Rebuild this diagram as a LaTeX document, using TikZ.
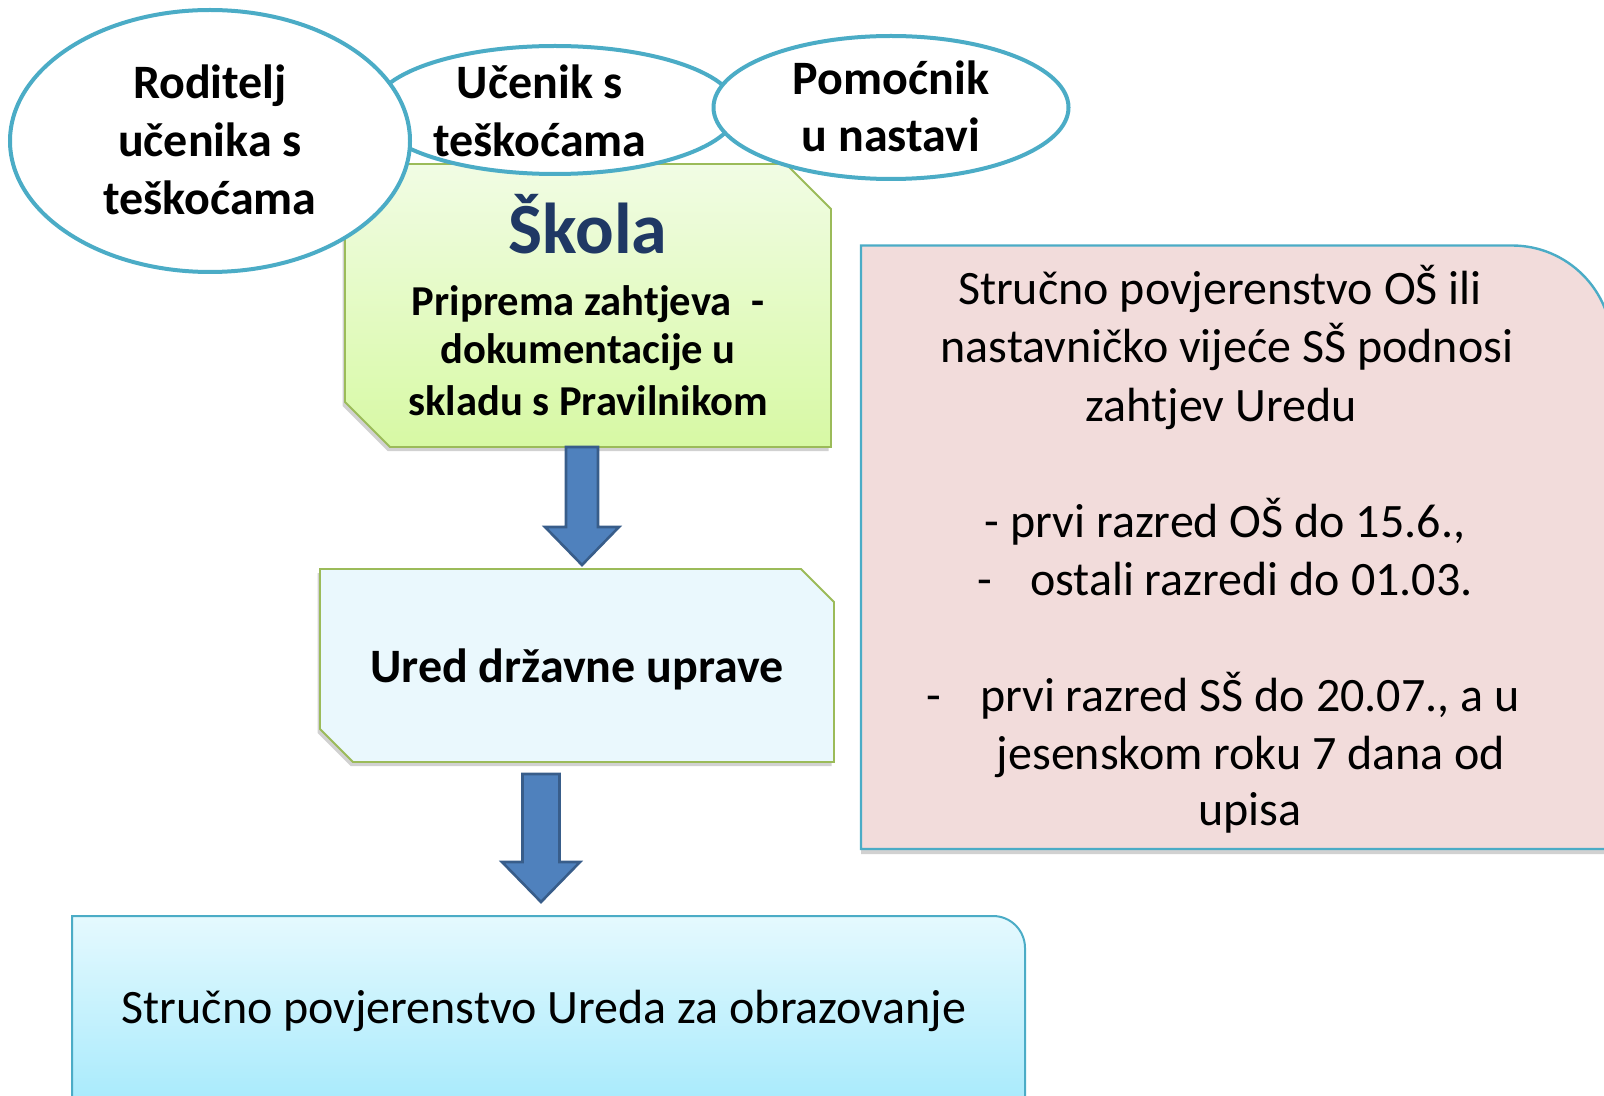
\documentclass[tikz,border=0pt]{standalone}
\usepackage{fontspec}
\setmainfont{Carlito}
\usetikzlibrary{shapes.geometric,shadows,calc}
\definecolor{ellblue}{HTML}{4BACC6}
\definecolor{boxgreen}{HTML}{9BBB59}
\definecolor{arrfill}{HTML}{4F81BD}
\definecolor{arrline}{HTML}{385D8A}
\definecolor{navy}{HTML}{1F3864}
\definecolor{pinkfill}{HTML}{F2DCDB}
\definecolor{greentop}{HTML}{F1FCE4}
\definecolor{greenbot}{HTML}{D7F9A4}
\definecolor{uredfill}{HTML}{EAF8FD}
\definecolor{cyantop}{HTML}{E5F9FE}
\definecolor{cyanbot}{HTML}{A6EAFC}
\tikzset{
  ellbox/.style={ellipse, draw=ellblue, line width=2pt, fill=white, inner sep=0pt},
  chbox/.style={draw=boxgreen, line width=0.9pt, drop shadow={shadow xshift=-1.2pt, shadow yshift=-2pt, opacity=0.3, fill=black!60}},
  blockarrow/.style={fill=arrfill, draw=arrline, line width=1.3pt, line join=miter},
  bigbold/.style={font=\fontsize{24}{29}\selectfont\bfseries, inner sep=0pt, anchor=base},
  midbold/.style={font=\fontsize{21.3}{26}\selectfont\bfseries, inner sep=0pt, anchor=base},
  plaintxt/.style={font=\fontsize{24}{29}\selectfont, inner sep=0pt, anchor=base},
}
\begin{document}
\begin{tikzpicture}[x=0.5pt,y=-0.5pt]
\useasboundingbox (0,0) rectangle (1604,1096);
\clip (0,0) rectangle (1604,1096);

% Skola box
\path[chbox, top color=greentop, bottom color=greenbot]
  (345,164) -- (786,164) -- (831,209) -- (831,447) -- (390,447) -- (345,402) -- cycle;
% Ured box
\path[chbox, fill=uredfill]
  (320,569) -- (801,569) -- (834,602) -- (834,762) -- (353,762) -- (320,729) -- cycle;
% Pink box
\path[draw=ellblue, line width=1.2pt, fill=pinkfill, drop shadow={shadow xshift=0pt, shadow yshift=-2.5pt, opacity=0.3, fill=black!60}]
  (861,849) -- (861,245.5) [rounded corners=50pt] -- (1612,245.5) [sharp corners] -- (1612,849) -- cycle;
% Bottom box
\path[draw=ellblue, line width=1pt, top color=cyantop, bottom color=cyanbot]
  (72,1110) -- (72,916) [rounded corners=16pt] -- (1025,916) [sharp corners] -- (1025,1110) -- cycle;

% arrow anchor coordinates
\coordinate (skolaS) at (582,447);
\coordinate (uredN) at (582,565);
\coordinate (uredS) at (541,774);
\coordinate (bottomN) at (541,902);

% arrows
\path[blockarrow] ($(skolaS)+(-16,0)$) -- ($(skolaS)+(16,0)$) -- ($(uredN)+(16,-38)$) -- ($(uredN)+(37,-38)$)
  -- (uredN) -- ($(uredN)+(-37,-38)$) -- ($(uredN)+(-16,-38)$) -- cycle;
\path[blockarrow] ($(uredS)+(-18.5,0)$) -- ($(uredS)+(18.5,0)$) -- ($(bottomN)+(18.5,-40)$) -- ($(bottomN)+(39,-40)$)
  -- (bottomN) -- ($(bottomN)+(-39,-40)$) -- ($(bottomN)+(-18.5,-40)$) -- cycle;

% ellipses
\node[ellbox, minimum width=182pt, minimum height=64pt] (ucenik) at (555,110) {};
\node[ellbox, minimum width=200pt, minimum height=131pt] (roditelj) at (210,141) {};
\node[ellbox, minimum width=177.5pt, minimum height=71.5pt] (pomocnik) at (891,107.5) {};

% ellipse texts
\node[bigbold] (rod1) at (210,99) {Roditelj};
\node[bigbold] (rod2) at (210,157) {učenika s};
\node[bigbold] (rod3) at (210,215) {teškoćama};
\node[bigbold] (uc1) at (540,99) {Učenik s};
\node[bigbold] (uc2) at (540,157) {teškoćama};
\node[bigbold] (po1) at (891,95) {Pomoćnik};
\node[bigbold] (po2) at (891,152) {u nastavi};

% Skola texts
\node[font=\fontsize{36}{43}\selectfont\bfseries, text=navy, inner sep=0pt, anchor=base] (skolaT) at (588,254) {Škola};
\node[midbold] (sk1) at (588,315) {Priprema zahtjeva\ \ -};
\node[midbold] (sk2) at (588,364) {dokumentacije u};
\node[midbold] (sk3) at (588,415) {skladu s Pravilnikom};

% Ured text
\node[font=\fontsize{24}{29}\selectfont\bfseries, inner sep=0pt, anchor=base] (uredT) at (577,682) {Ured državne uprave};

% Pink texts
\node[plaintxt] (pk1) at (1220,305) {Stručno povjerenstvo OŠ ili};
\node[plaintxt] (pk2) at (1227,363) {nastavničko vijeće SŠ podnosi};
\node[plaintxt] (pk3) at (1221,421) {zahtjev Uredu};
\node[plaintxt] (pk4) at (1225,537) {- prvi razred OŠ do 15.6.,};
\node[plaintxt, anchor=base west] (pk5) at (977,595) {-\hspace{19pt}ostali razredi do 01.03.};
\node[plaintxt, anchor=base west] (pk6) at (926,711) {-\hspace{19.5pt}prvi razred SŠ do 20.07., a u};
\node[plaintxt] (pk7) at (1251,769) {jesenskom roku 7 dana od};
\node[plaintxt] (pk8) at (1250,825) {upisa};

% bottom text
\node[plaintxt] (botT) at (544,1023) {Stručno povjerenstvo Ureda za obrazovanje};
\end{tikzpicture}
\end{document}
